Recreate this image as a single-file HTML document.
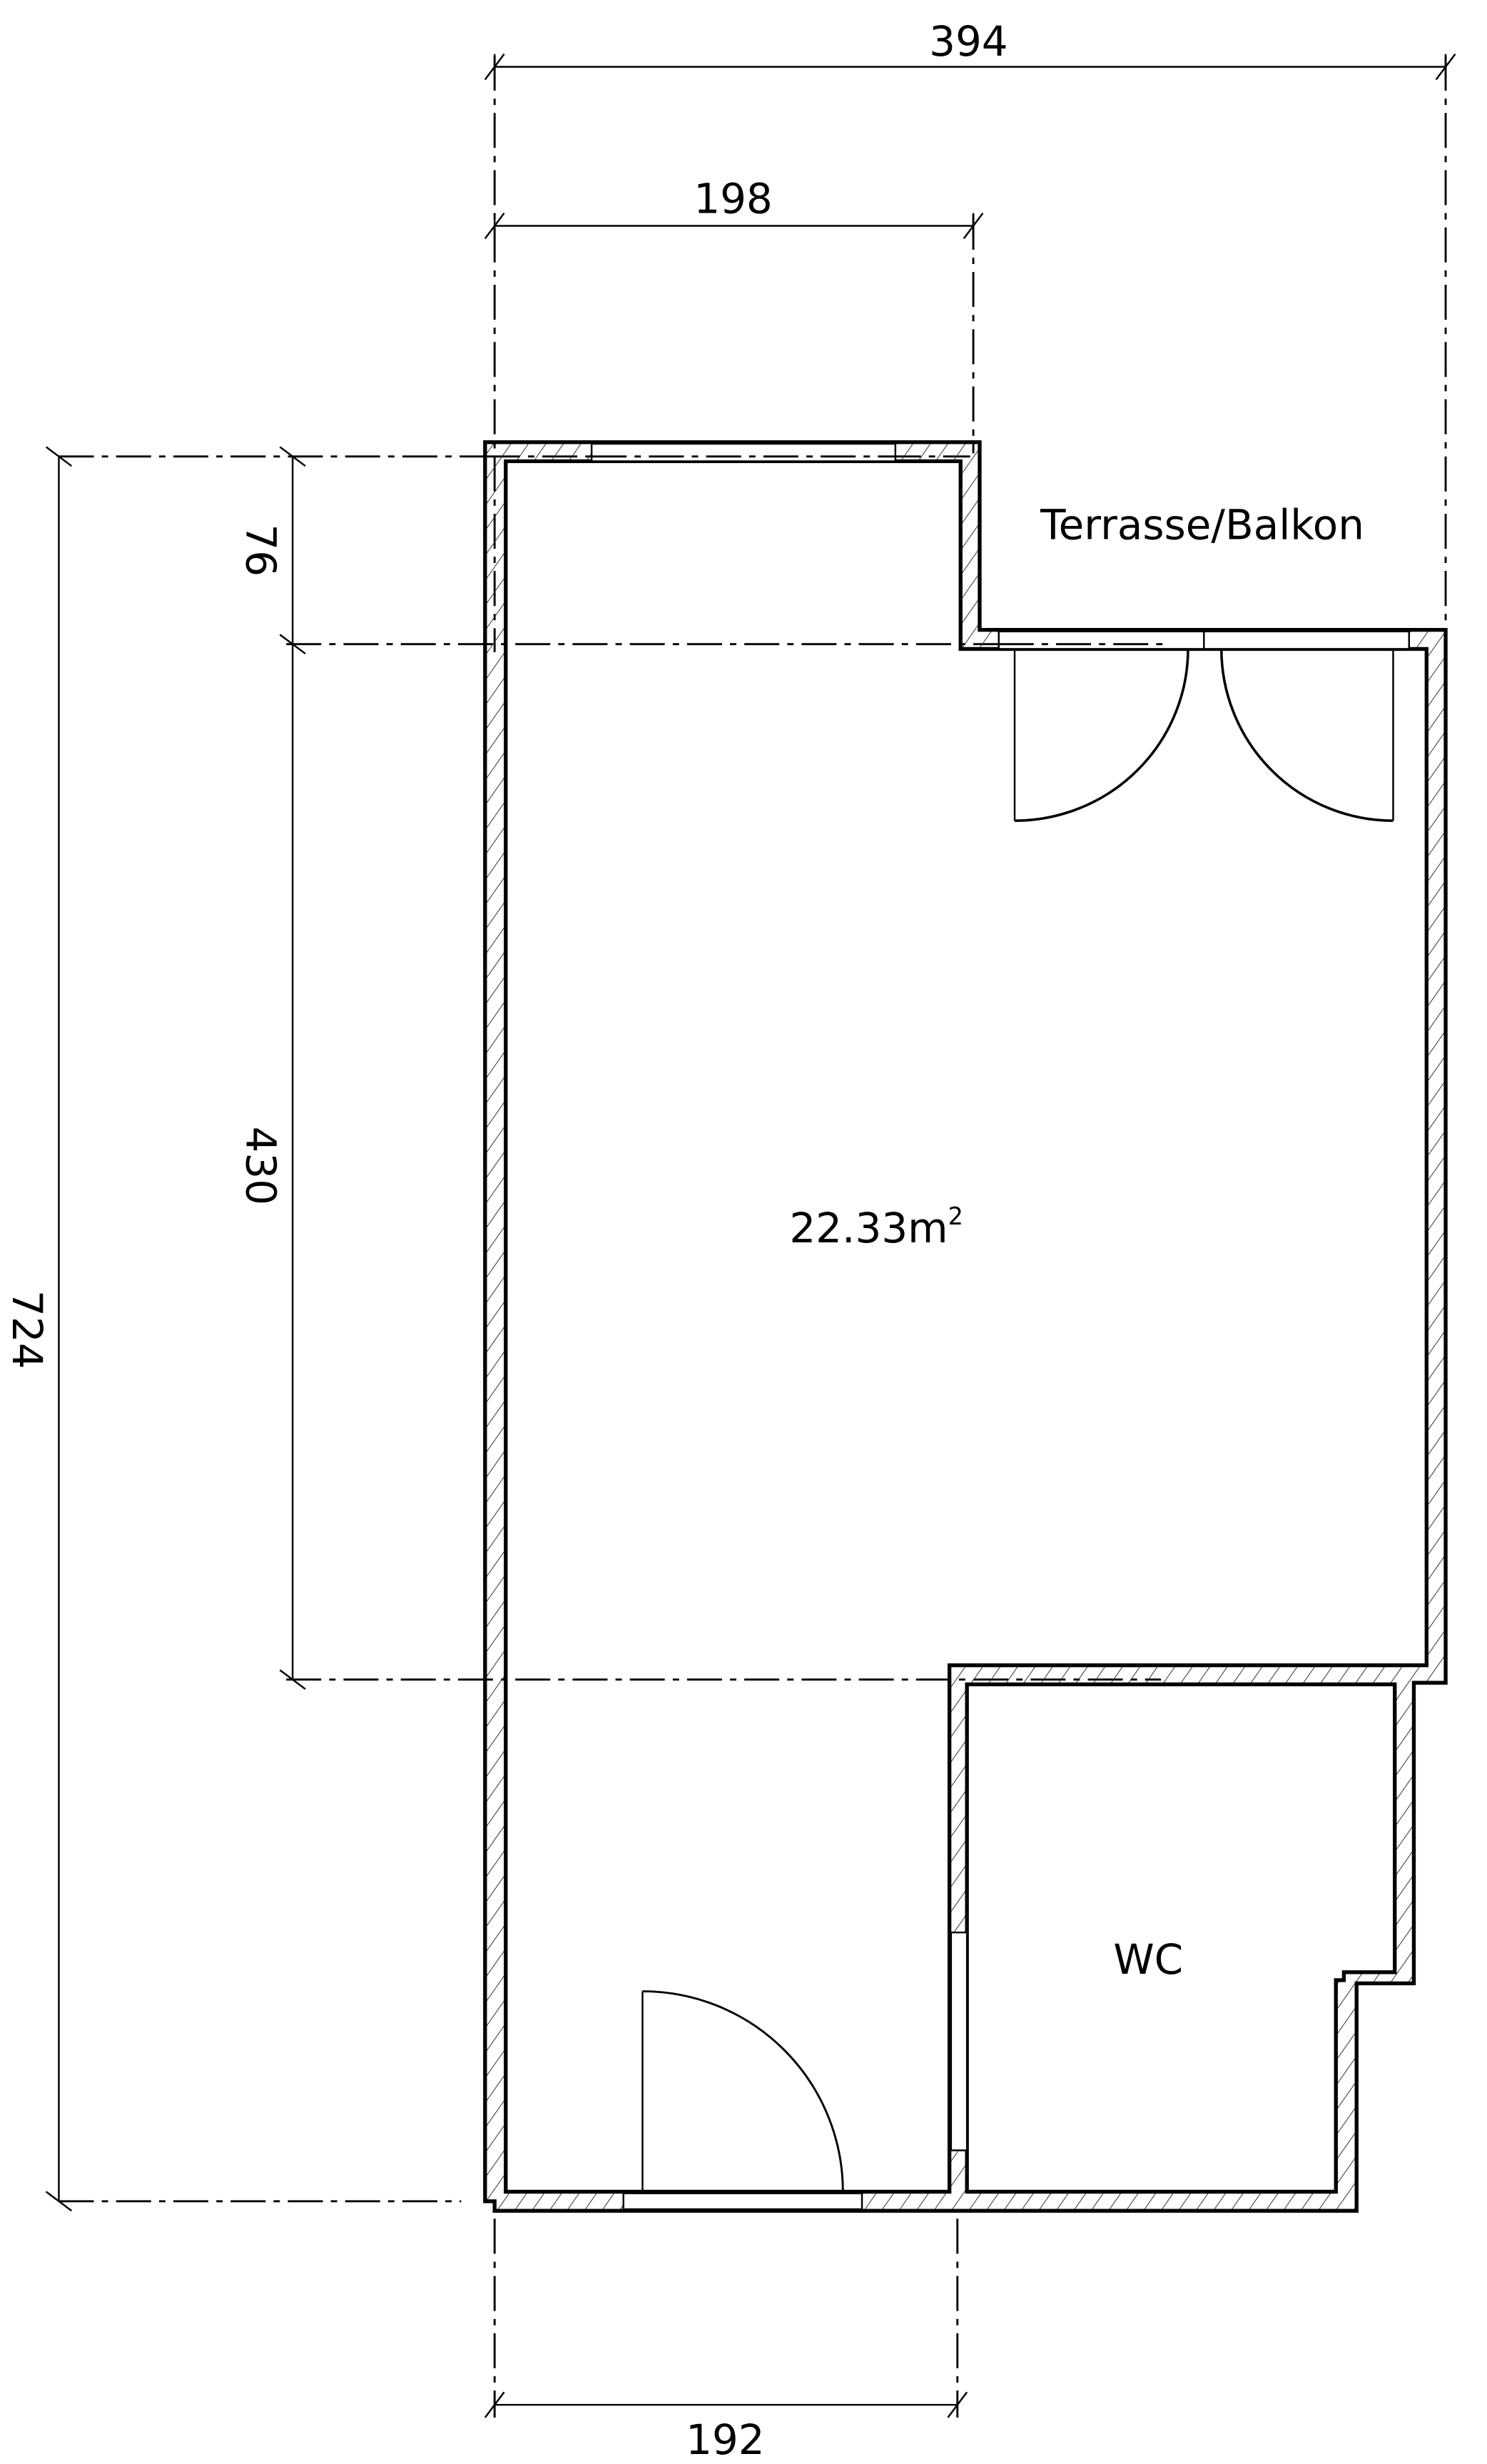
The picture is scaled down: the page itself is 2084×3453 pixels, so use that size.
<!DOCTYPE html>
<html><head><meta charset="utf-8"><style>
html,body{margin:0;padding:0;background:#fff;}
svg{display:block;}
text{font-family:"DejaVu Sans","Liberation Sans",sans-serif;fill:#000;}
</style></head><body>
<svg width="2084" height="3453" viewBox="0 0 935 1549.2" xmlns="http://www.w3.org/2000/svg">
<defs>
<pattern id="h" patternUnits="userSpaceOnUse" width="9" height="9" patternTransform="rotate(35)">
<line x1="0" y1="0" x2="0" y2="9" stroke="#333" stroke-width="0.9"/>
</pattern>
</defs>
<rect width="935" height="1549.2" fill="#fff"/>

<g stroke="#000" stroke-width="1.1" fill="none">
<line x1="311" y1="42" x2="909" y2="42"/>
<line x1="311" y1="142" x2="612" y2="142"/>
<line x1="37" y1="287" x2="37" y2="1384"/>
<line x1="184" y1="287" x2="184" y2="1056"/>
<line x1="311" y1="1512" x2="602" y2="1512"/>
<line x1="305" y1="50" x2="317" y2="34"/><line x1="903" y1="50" x2="915" y2="34"/>
<line x1="305" y1="150" x2="317" y2="134"/><line x1="606" y1="150" x2="618" y2="134"/>
<line x1="29" y1="281" x2="45" y2="293"/><line x1="29" y1="1378" x2="45" y2="1390"/>
<line x1="176" y1="281" x2="192" y2="293"/><line x1="176" y1="399" x2="192" y2="411"/><line x1="176" y1="1050" x2="192" y2="1062"/>
<line x1="305" y1="1520" x2="317" y2="1504"/><line x1="596" y1="1520" x2="608" y2="1504"/>
<line x1="311" y1="34" x2="311" y2="50"/><line x1="909" y1="34" x2="909" y2="50"/>
<line x1="311" y1="134" x2="311" y2="150"/><line x1="612" y1="134" x2="612" y2="150"/>
<line x1="311" y1="1504" x2="311" y2="1520"/><line x1="602" y1="1504" x2="602" y2="1520"/>
</g>
<g stroke="#000" stroke-width="1.3" fill="none" stroke-dasharray="22,5,4,5">
<line x1="311" y1="35" x2="311" y2="410"/>
<line x1="909" y1="35" x2="909" y2="398"/>
<line x1="612" y1="135" x2="612" y2="285"/>
<line x1="37" y1="287" x2="305" y2="287"/>
<line x1="180" y1="405" x2="735" y2="405"/>
<line x1="180" y1="1056" x2="730" y2="1056"/>
<line x1="37" y1="1384" x2="290" y2="1384"/>
<line x1="311" y1="1395" x2="311" y2="1520"/>
<line x1="602" y1="1395" x2="602" y2="1520"/>
<line x1="305" y1="287" x2="610" y2="287"/>
</g>

<path fill="url(#h)" fill-rule="evenodd" stroke="#000" stroke-width="2.4"
 d="M305,278 H616 V396 H909 V1058 H889 V1247 H853 V1390 H311 V1384 H305 Z
    M318,290 H604 V408 H897 V1047 H597 V1378 H318 Z
    M608,1059 H877 V1240 H845 V1245 H840 V1378 H608 Z"/>

<g fill="#fff" stroke="#000" stroke-width="1.1">
<rect x="372" y="279" width="191" height="11"/>
<rect x="628" y="397" width="258" height="11"/>
<rect x="392" y="1379" width="150" height="10"/>
<rect x="598" y="1215" width="10" height="137"/>
</g>
<line x1="757" y1="397" x2="757" y2="408" stroke="#000" stroke-width="1.1"/>
<line x1="372" y1="287" x2="563" y2="287" stroke="#000" stroke-width="1.3" stroke-dasharray="22,5,4,5"/>
<line x1="628" y1="405" x2="735" y2="405" stroke="#000" stroke-width="1.3" stroke-dasharray="22,5,4,5"/>

<g fill="none" stroke="#000">
<line x1="638" y1="408" x2="638" y2="516" stroke-width="1.1"/>
<path d="M747,408 A109,108 0 0 1 638,516" stroke-width="1.6"/>
<line x1="876" y1="408" x2="876" y2="516" stroke-width="1.1"/>
<path d="M768,408 A108,108 0 0 0 876,516" stroke-width="1.6"/>
<line x1="404" y1="1252" x2="404" y2="1378" stroke-width="1.1"/>
<path d="M404,1252 A126,126 0 0 1 530,1378" stroke-width="1.3"/>
</g>

<g font-size="26" text-anchor="middle">
<text x="609" y="35">394</text>
<text x="461" y="134">198</text>
<text x="456" y="1543">192</text>
<text x="756" y="339">Terrasse/Balkon</text>
<text x="722" y="1241">WC</text>
<text x="551" y="781">22.33m<tspan font-size="15" dy="-11">2</tspan></text>
<text transform="translate(8,836) rotate(90)">724</text>
<text transform="translate(155,346) rotate(90)">76</text>
<text transform="translate(155,733) rotate(90)">430</text>
</g>
</svg>
</body></html>
